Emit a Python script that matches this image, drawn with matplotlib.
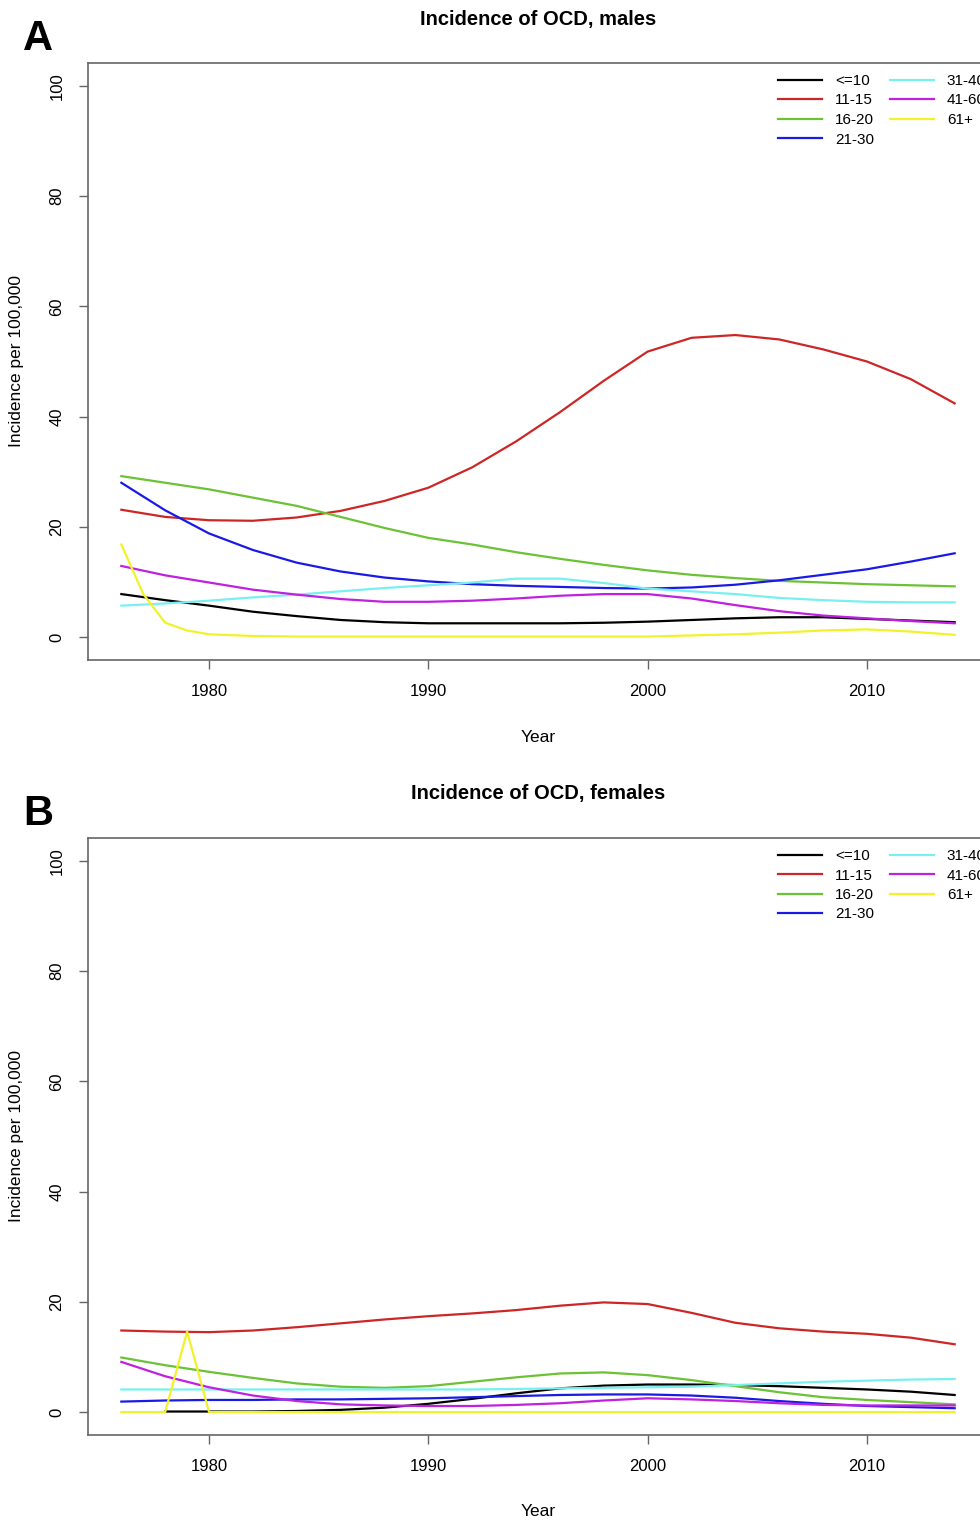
import matplotlib
matplotlib.use('Agg')
import matplotlib.pyplot as plt

plt.rcParams['font.family'] = ['Liberation Sans', 'DejaVu Sans']

groups = ['<=10', '11-15', '16-20', '21-30', '31-40', '41-60', '61+']
colors = ['#000000', '#CD2626', '#6CC235', '#1A1AE6', '#78F0F0', '#C020E0', '#F2F22A']

years = list(range(1976, 2015, 2))

# males
m_le10 = [7.8, 6.7, 5.7, 4.6, 3.8, 3.1, 2.7, 2.5, 2.5, 2.5, 2.5, 2.6, 2.8, 3.1, 3.4, 3.6, 3.6, 3.3, 3.0, 2.7]
m_11_15 = [23.1, 21.8, 21.2, 21.1, 21.7, 22.9, 24.7, 27.1, 30.8, 35.5, 40.8, 46.5, 51.8, 54.3, 54.8, 54.0, 52.2, 50.0, 46.8, 42.4]
m_16_20 = [29.2, 28.0, 26.8, 25.3, 23.8, 21.8, 19.8, 18.0, 16.8, 15.4, 14.2, 13.1, 12.1, 11.3, 10.7, 10.2, 9.9, 9.6, 9.4, 9.2]
m_21_30 = [28.0, 23.0, 18.8, 15.8, 13.5, 11.9, 10.8, 10.1, 9.6, 9.3, 9.1, 8.9, 8.8, 9.0, 9.5, 10.3, 11.3, 12.3, 13.7, 15.2]
m_31_40 = [5.7, 6.1, 6.6, 7.2, 7.7, 8.3, 8.9, 9.4, 9.9, 10.6, 10.6, 9.8, 8.8, 8.3, 7.8, 7.1, 6.7, 6.4, 6.3, 6.3]
m_41_60 = [12.9, 11.2, 9.9, 8.6, 7.7, 6.9, 6.4, 6.4, 6.6, 7.0, 7.5, 7.8, 7.8, 7.0, 5.8, 4.7, 3.9, 3.4, 2.9, 2.5]
m_61_years = [1976, 1977, 1978, 1979, 1980, 1982, 1984, 1986, 1988, 1990, 1992, 1994, 1996, 1998,
              2000, 2002, 2004, 2006, 2008, 2010, 2012, 2014]
m_61 = [16.8, 7.8, 2.6, 1.2, 0.5, 0.2, 0.1, 0.1, 0.1, 0.1, 0.1, 0.1, 0.1, 0.1,
        0.1, 0.3, 0.5, 0.8, 1.2, 1.4, 1.0, 0.4]

# females
f_le10_years = list(range(1978, 2015, 2))
f_le10 = [0.1, 0.1, 0.1, 0.2, 0.4, 0.8, 1.5, 2.4, 3.4, 4.3, 4.8, 5.0, 5.0, 4.9, 4.7, 4.4, 4.1, 3.7, 3.1]
f_11_15 = [14.8, 14.6, 14.5, 14.8, 15.4, 16.1, 16.8, 17.4, 17.9, 18.5, 19.3, 19.9, 19.6, 18.0, 16.2, 15.2, 14.6, 14.2, 13.5, 12.3]
f_16_20 = [9.9, 8.5, 7.3, 6.2, 5.2, 4.6, 4.4, 4.7, 5.5, 6.3, 7.0, 7.2, 6.7, 5.8, 4.7, 3.6, 2.7, 2.2, 1.8, 1.4]
f_21_30 = [1.9, 2.1, 2.2, 2.2, 2.3, 2.3, 2.4, 2.5, 2.7, 2.9, 3.1, 3.2, 3.2, 3.0, 2.6, 2.0, 1.5, 1.1, 0.9, 0.7]
f_31_40 = [4.1, 4.1, 4.1, 4.1, 4.1, 4.1, 4.1, 4.1, 4.1, 4.2, 4.3, 4.4, 4.5, 4.6, 4.9, 5.2, 5.5, 5.7, 5.9, 6.0]
f_41_60 = [9.1, 6.5, 4.5, 3.0, 2.0, 1.4, 1.2, 1.1, 1.1, 1.3, 1.6, 2.1, 2.5, 2.3, 2.0, 1.6, 1.3, 1.2, 1.2, 1.2]
f_61_years = [1976, 1977, 1978, 1979, 1980] + list(range(1982, 2015, 2))
f_61 = [0.0, 0.0, 0.0, 14.6, 0.0] + [0.0] * 17

males = [(years, m_le10), (years, m_11_15), (years, m_16_20), (years, m_21_30),
         (years, m_31_40), (years, m_41_60), (m_61_years, m_61)]
females = [(f_le10_years, f_le10), (years, f_11_15), (years, f_16_20), (years, f_21_30),
           (years, f_31_40), (years, f_41_60), (f_61_years, f_61)]

W, H = 980, 1521


def draw_panel(ax, series, title, letter, top):
    '''
    one panel of incidence curves
    '''
    for (x, y), c, lab in zip(series, colors, groups):
        ax.plot(x, y, color=c, lw=1.6, label=lab)

    ax.set_xlim(1974.48, 2015.52)
    ax.set_ylim(-4.16, 104.16)
    ax.set_xticks([1980, 1990, 2000, 2010])
    ax.set_yticks([0, 20, 40, 60, 80, 100])
    ax.tick_params(direction='out', length=6.5, width=1, color='#666666',
                   pad=10.5, labelsize=12)
    ax.tick_params(axis='y', labelrotation=90)
    for lbl in ax.get_yticklabels():
        lbl.set_va('center')
        lbl.set_ha('right')
    for sp in ax.spines.values():
        sp.set_color('#666666')
        sp.set_linewidth(1.2)

    # legend runs off the right edge, as in the original figure
    ax.legend(ncol=2, loc='upper left', bbox_to_anchor=((778 - 88) / 900, 1 - 11 / 597),
              frameon=False, fontsize=11, handlelength=2.9, handletextpad=0.85,
              columnspacing=1.0, labelspacing=0.36, borderpad=0, borderaxespad=0)

    fig.text(538 / W, 1 - (top - 44) / H, title, ha='center', va='center',
             fontsize=14.5, fontweight='bold')
    fig.text(38 / W, 1 - (top - 24) / H, letter, ha='center', va='center',
             fontsize=30, fontweight='bold')
    fig.text(17 / W, 1 - (top + 298) / H, 'Incidence per 100,000', rotation=90,
             ha='center', va='center', fontsize=12.5)
    fig.text(538 / W, 1 - (top + 674) / H, 'Year', ha='center', va='center', fontsize=12.5)


fig = plt.figure(figsize=(W / 100, H / 100), dpi=100)
axA = fig.add_axes([88 / W, 1 - 660 / H, 900 / W, 597 / H])
axB = fig.add_axes([88 / W, 1 - 1435 / H, 900 / W, 597 / H])

draw_panel(axA, males, 'Incidence of OCD, males', 'A', 63)
draw_panel(axB, females, 'Incidence of OCD, females', 'B', 838)

plt.savefig('out.png', dpi=100)
